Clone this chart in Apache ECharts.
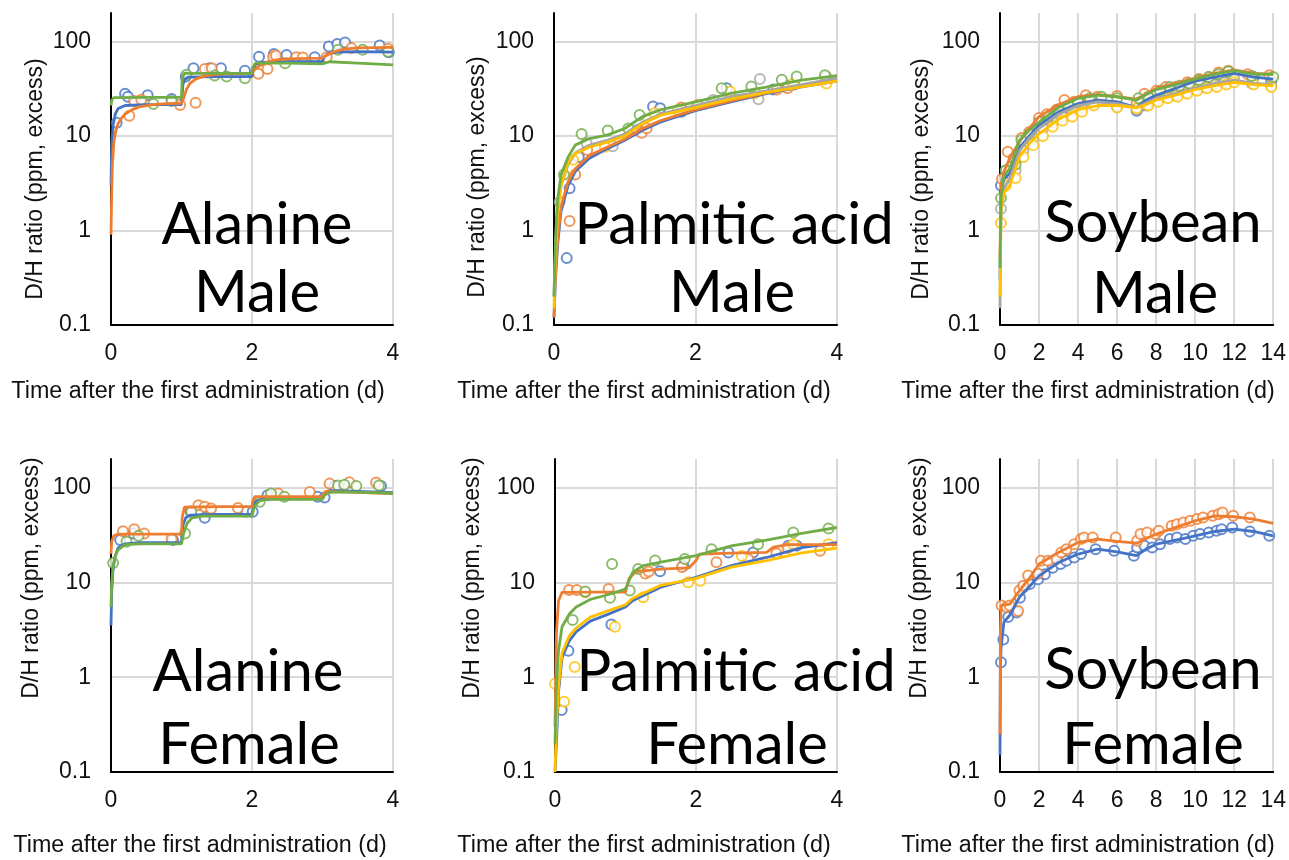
<!DOCTYPE html>
<html><head><meta charset="utf-8">
<script src="https://cdn.jsdelivr.net/npm/echarts@6/dist/echarts.min.js"></script>
<style>html,body{margin:0;padding:0;background:#fff}#c{width:1289px;height:860px}</style>
</head><body><div id="c"></div>
<script>
// ---------- tick labels ----------
const X_TICKS_4 = [0, 2, 4];
const X_TICKS_14 = [0, 2, 4, 6, 8, 10, 12, 14];
const Y_TICKS = [0.1, 1, 10, 100];
const Y_MAX = 200;
const X_NAME = 'Time after the first administration (d)';
const Y_NAME = 'D/H ratio (ppm, excess)';

// ---------- Alanine Male ----------
const alaM_blueFit = [[0,3],[0.01,8],[0.03,13],[0.06,17],[0.1,19.5],[0.2,21],[0.5,21.5],[1.0,21.5],[1.02,35],[1.05,40],[1.1,42],[1.5,42.5],[2.0,42.5],[2.02,52],[2.05,57],[2.15,60],[2.5,61],[3.0,61],[3.02,68],[3.08,74],[3.2,77],[3.5,78],[4.0,77]];
const alaM_orangeFit = [[0,0.9],[0.01,2.5],[0.02,5],[0.04,8.5],[0.07,11.5],[0.1,13.5],[0.15,15.5],[0.2,17],[0.3,19],[0.4,20.3],[0.6,21.5],[0.8,22],[1.0,22.2],[1.03,25],[1.07,31],[1.12,36],[1.2,40],[1.3,42.5],[1.45,44.5],[1.6,45.5],[2.0,46],[2.03,50],[2.1,55],[2.2,60],[2.35,64],[2.5,65.5],[3.0,66.5],[3.05,71],[3.15,77],[3.3,83],[3.5,85.5],[4.0,86.5]];
const alaM_greenFit = [[0,21],[0.01,24],[0.04,25.5],[0.5,25.6],[1.0,25.6],[1.01,40],[1.04,46],[1.5,46],[2.0,46],[2.01,53],[2.05,59],[2.5,59],[3.0,58],[3.02,60],[3.1,61],[3.5,59],[4.0,56.5]];
const alaM_blueObs = [[0.08,13.8],[0.2,27.9],[0.24,26],[0.52,27],[0.86,24.6],[1.06,42.6],[1.17,52],[1.4,52],[1.56,52],[1.9,49],[2.1,69],[2.31,73.5],[2.49,72],[2.89,68],[3.09,88.6],[3.21,94],[3.32,97.6],[3.81,90.7],[3.94,77]];
const alaM_orangeObs = [[0.26,16.4],[0.33,23.5],[0.43,24.2],[0.98,21.3],[1.2,22.5],[1.33,51],[1.43,52],[2.09,45.4],[2.22,51],[2.3,69],[2.34,71],[2.63,68],[2.72,67.6],[3.06,68],[3.41,85],[3.93,83.6]];
const alaM_greenObs = [[0.6,21.8],[0.86,23.5],[1.07,44.4],[1.47,43.6],[1.64,42.6],[1.9,40.9],[2.47,58.9],[3.22,81.6],[3.57,81.6],[3.93,78]];

// ---------- Palmitic acid Male ----------
const palM_blueFit = [[0,0.12],[0.02,0.3],[0.05,0.7],[0.1,1.6],[0.2,3],[0.3,4.2],[0.5,5.8],[0.75,7.3],[1,9],[1.25,11.5],[1.5,14],[2,18.5],[2.5,23],[3,28],[3.5,33],[4,38]];
const palM_orangeFit = [[0,0.12],[0.02,0.35],[0.05,0.8],[0.1,1.8],[0.2,3.3],[0.3,4.5],[0.5,6.2],[0.75,7.6],[1,9.3],[1.25,12],[1.5,14.5],[2,19],[2.5,23.5],[3,28.5],[3.5,33.5],[4,39]];
const palM_grayFit = [[0,0.2],[0.02,0.6],[0.05,1.8],[0.1,3],[0.2,5],[0.3,6.6],[0.5,8],[0.75,9],[1,10.5],[1.25,14],[1.5,17],[2,21],[2.5,26],[3,30],[3.5,35],[4,41]];
const palM_yellowFit = [[0,0.15],[0.02,0.5],[0.05,1.5],[0.1,3],[0.2,5.3],[0.3,6.5],[0.5,7.6],[0.75,8.6],[1,10],[1.25,13.5],[1.5,16.5],[2,20],[2.5,24.5],[3,29],[3.5,33],[4,38]];
const palM_greenFit = [[0,0.2],[0.02,0.8],[0.05,2.1],[0.1,3.9],[0.2,6],[0.3,8],[0.5,9.4],[0.75,10.2],[1,12],[1.25,16],[1.5,18.9],[2,23],[2.5,28.3],[3,32.8],[3.5,39],[4,43.6]];
const palM_blueObs = [[0.18,0.51],[0.22,2.8],[0.35,6],[1.18,11.6],[1.4,20.5],[1.5,19.6],[1.8,18],[2.44,32],[3.1,31],[3.3,34]];
const palM_orangeObs = [[0.22,1.26],[0.3,3.9],[0.47,7.1],[1.24,10.8],[1.31,12.1],[1.8,20],[2.03,21.3],[2.5,26],[3.15,31],[3.3,32],[3.4,35]];
const palM_grayObs = [[0.08,2.0],[0.46,8.4],[0.83,7.8],[1.8,19],[2.25,24],[2.89,24.5],[2.91,40],[3.85,42]];
const palM_yellowObs = [[0.27,5.6],[0.72,7.7],[1.42,17.4],[1.75,18.8],[2.49,29.5],[2.84,28.3],[3.38,35.6],[3.85,36]];
const palM_greenObs = [[0.14,3.9],[0.39,10.5],[0.76,11.4],[1.05,12],[1.21,16.7],[2.37,32],[2.79,33.4],[3.22,39.3],[3.43,42.6],[3.83,44]];

// ---------- Soybean Male ----------
const soyM_blueFit = [[0,0.3],[0.05,2.5],[0.2,3.5],[0.5,4],[1,7.5],[1.5,10],[2,13],[3,18],[4,22],[5,24],[6,23],[7,20],[7.5,24],[8,27],[9,32],[10,38],[11,42],[12,46],[13,42],[14,40]];
const soyM_orangeFit = [[0,0.5],[0.05,3],[0.2,4.2],[0.5,5.8],[1,8.7],[1.5,12],[2,16],[3,21.4],[4,26],[5,27.6],[6,26],[7,24.6],[7.5,28],[8,32],[9,36],[10,40.8],[11,46],[12,50],[13,46],[14,45]];
const soyM_grayFit = [[0,0.15],[0.05,1.8],[0.2,2.8],[0.5,3.5],[1,7],[1.5,9.5],[2,12],[3,17],[4,21],[5,23],[6,22],[7,20],[7.5,22.5],[8,25],[9,28],[10,32],[11,36],[12,39],[13,36],[14,35]];
const soyM_yellowFit = [[0,0.2],[0.05,1.6],[0.2,2.5],[0.5,3],[1,6],[1.5,8.3],[2,10.5],[3,15],[4,19],[5,21],[6,21],[7,20],[7.5,21.5],[8,24],[9,27],[10,31],[11,34],[12,37],[13,35],[14,34]];
const soyM_greenFit = [[0,0.4],[0.05,2.2],[0.2,3.8],[0.5,4.5],[1,9],[1.5,11.5],[2,14],[3,20],[4,25],[5,27],[6,26],[7,24],[7.5,27.5],[8,31],[9,35],[10,40],[11,45],[12,49],[13,45],[14,45]];
const soyM_blueObs = [[0.05,3.0],[0.3,4.3],[0.8,5.5],[1.2,7.8],[1.6,10.5],[2.1,14],[2.5,15],[3.0,17],[3.5,19.5],[4.0,21],[4.5,23],[5.0,23],[6.0,20.5],[7.0,18.5],[7.3,21],[7.8,24],[8.3,27],[8.8,29],[9.3,31],[9.8,34],[10.3,37],[10.8,40],[11.3,43],[11.8,45],[13.0,42],[13.9,38]];
const soyM_orangeObs = [[0.1,3.5],[0.4,6.8],[0.7,5.8],[1.1,9.5],[1.5,11],[2.0,15.5],[2.4,17],[2.9,19],[3.3,24],[3.8,23],[4.4,27],[5.0,26],[6.0,26.5],[7.0,22],[7.4,28],[8.0,30],[8.5,33],[9.0,33],[9.6,37],[10.2,40],[10.7,42],[11.2,47],[11.7,49],[12.7,45],[13.8,44]];
const soyM_grayObs = [[0.05,1.7],[0.3,3.2],[0.8,4.3],[1.2,7],[1.7,9.5],[2.2,12],[2.7,14],[3.2,16],[3.7,18.5],[4.2,20],[4.8,22],[6.0,21],[7.0,19],[7.5,21],[8.0,24],[8.5,26],[9.0,27],[9.5,29],[10.0,31],[10.5,33],[11.0,35],[11.5,37],[12.0,40],[12.9,36],[13.9,34]];
const soyM_yellowObs = [[0.05,1.2],[0.3,3.0],[0.8,3.6],[1.2,6],[1.7,8],[2.2,10],[2.7,12.5],[3.2,14.5],[3.7,16],[4.2,18],[4.8,21],[6.0,20],[7.0,19.5],[7.6,21],[8.1,23],[8.6,25],[9.1,26],[9.6,28],[10.1,30],[10.6,32],[11.1,33],[11.6,35],[12.0,37],[13.0,35],[13.9,33]];
const soyM_greenObs = [[0.05,2.2],[0.3,4.3],[0.8,5],[1.1,9],[1.5,10.5],[2.0,14],[2.5,16],[3.0,19],[3.5,21],[4.0,23],[4.6,25],[5.2,26],[6.0,25],[7.1,25],[7.6,26],[8.2,30],[8.7,33],[9.2,34],[9.7,36],[10.2,39],[10.7,42],[11.2,45],[11.7,48],[12.9,43],[14.0,42]];

// ---------- Alanine Female ----------
const alaF_blueFit = [[0,3.5],[0.01,8],[0.03,14],[0.06,19],[0.1,23],[0.2,25.5],[0.4,26.2],[1.0,26.3],[1.02,40],[1.06,48],[1.12,51],[1.5,52],[2.0,52],[2.02,65],[2.07,73],[2.15,76],[3.0,76.5],[3.02,85],[3.08,92],[3.2,93],[4.0,88.5]];
const alaF_orangeFit = [[0,20],[0.01,27],[0.04,31],[0.1,32.3],[1.0,32.3],[1.01,48],[1.04,62],[1.5,63],[2.0,63],[2.01,72],[2.04,80],[2.5,80],[3.0,80],[3.01,86],[3.05,91],[3.5,89],[4.0,86.5]];
const alaF_greenFit = [[0,5.5],[0.01,10],[0.03,15],[0.06,19],[0.1,22],[0.2,25],[0.4,25.5],[1.0,25.5],[1.03,33],[1.08,42],[1.15,48],[1.3,50],[2.0,50],[2.03,62],[2.1,72],[2.2,75],[3.0,75],[3.03,83],[3.1,89],[3.3,90],[4.0,87]];
const alaF_blueObs = [[0.13,27.9],[0.32,32.8],[0.88,28],[1.13,56],[1.33,48],[1.92,56],[2.01,55.4],[2.22,83],[2.93,79.8],[3.03,78.5],[3.17,104],[3.83,104]];
const alaF_orangeObs = [[0.17,34.7],[0.33,36.4],[0.47,32.7],[0.86,28.6],[1.24,65],[1.33,62.6],[1.42,60],[1.8,61],[2.37,86.5],[2.82,90],[3.1,110],[3.38,114],[3.76,113]];
const alaF_greenObs = [[0.03,16],[0.22,26.8],[0.39,31],[1.05,32.8],[1.14,55.5],[2.11,70.7],[2.27,86.5],[2.46,79.8],[3.22,105],[3.31,107],[3.48,104],[3.8,105]];

// ---------- Palmitic acid Female ----------
const palF_blueFit = [[0,0.1],[0.02,0.2],[0.05,0.7],[0.1,1.6],[0.2,2.4],[0.3,3.0],[0.5,3.9],[0.75,4.6],[1,5.5],[1.1,6.4],[1.5,8.9],[2,11.3],[2.5,15],[3,18.3],[3.5,23.3],[4,26.3]];
const palF_orangeFit = [[0,0.3],[0.02,2.9],[0.05,6.4],[0.1,7.85],[0.5,7.9],[1.0,7.9],[1.05,11],[1.15,13],[1.5,13.8],[1.9,14.2],[2.0,17],[2.05,19.9],[2.5,20.3],[3.0,20.7],[3.1,23.5],[3.3,25],[4,25]];
const palF_yellowFit = [[0,0.1],[0.02,0.3],[0.05,0.8],[0.1,1.8],[0.2,2.7],[0.3,3.3],[0.5,4.3],[0.75,5.0],[1,5.8],[1.1,6.8],[1.5,9.3],[2,11],[2.5,14.5],[3,17],[3.5,20.5],[4,23]];
const palF_greenFit = [[0,0.2],[0.02,0.8],[0.05,1.9],[0.1,3.4],[0.2,4.6],[0.3,5.5],[0.5,6.6],[0.75,7.4],[1,8.5],[1.1,12.7],[1.25,15],[1.5,16.3],[2,19.1],[2.5,24.3],[3,27.9],[3.5,32.8],[4,37.9]];
const palF_blueObs = [[0.095,0.45],[0.19,1.9],[0.8,3.6],[1.49,13.1],[1.82,15],[2.46,20.7],[2.81,20.7],[3.31,24.4],[3.43,24.4]];
const palF_orangeObs = [[0.2,8.3],[0.31,8.3],[0.43,7.85],[0.76,8.5],[1.28,12.4],[1.33,13],[1.8,14.5],[2.29,16.3],[2.74,17.6],[3.14,20.2],[3.3,23],[3.76,21.6]];
const palF_yellowObs = [[0.0,0.85],[0.13,0.55],[0.28,1.28],[0.85,3.4],[1.25,6.95],[1.89,10],[2.06,10.4],[2.65,19],[3.38,25.3],[3.88,25.3]];
const palF_greenObs = [[0.25,4.0],[0.43,8.0],[0.78,6.9],[0.81,15.6],[1.06,8.2],[1.18,13.8],[1.42,17],[1.84,17.6],[2.22,22.4],[2.88,25.3],[3.38,33.6],[3.88,37]];

// ---------- Soybean Female ----------
const soyF_blueFit = [[0,0.15],[0.02,1.2],[0.05,2],[0.2,3.8],[0.5,4.5],[1,7],[1.5,9],[2,11.7],[3,16.2],[4,19.9],[5,22.4],[6,21],[7,19.1],[7.5,22.5],[8,25.3],[9,27.9],[10,31],[11,34.4],[12,36.4],[13,34.4],[14,31]];
const soyF_orangeFit = [[0,0.25],[0.02,3],[0.05,5.7],[0.5,5.9],[1,8.2],[1.5,11],[2,15.6],[3,20.7],[4,26.4],[5,28.6],[6,27],[7,25.9],[7.5,29],[8,32.3],[9,38],[10,44.6],[11,50.3],[12,49.2],[13,46.5],[14,41.8]];
const soyF_blueObs = [[0.05,1.44],[0.17,2.5],[0.42,4.3],[0.85,4.8],[1.02,6.9],[1.19,8.9],[1.53,9.6],[1.95,10.8],[2.3,12.2],[2.7,14.3],[3.1,15.6],[3.4,16.9],[3.8,18.3],[4.15,19.9],[4.9,22.4],[5.85,21.5],[6.86,19.1],[7.03,23.3],[7.4,24.3],[7.8,23.3],[8.2,25.3],[8.7,28.6],[9.07,29.8],[9.5,28.6],[9.9,31],[10.25,32.3],[10.7,33.6],[11.1,35],[11.35,36.4],[11.9,38],[12.8,34.4],[13.8,31]];
const soyF_orangeObs = [[0.08,5.7],[0.34,5.5],[0.5,5.7],[0.93,5.0],[1.0,8.2],[1.2,9.2],[1.44,11.8],[1.95,12.3],[2.1,16.9],[2.46,16.9],[2.9,17.6],[3.14,20.7],[3.4,22.4],[3.8,25.3],[4.15,28.6],[4.3,29.8],[4.75,29.8],[5.93,29.8],[7.03,27.5],[7.2,32.3],[7.54,33.6],[7.97,32.3],[8.14,35],[8.8,39.5],[9.07,41],[9.4,42.8],[9.75,44.6],[10.1,46.5],[10.4,48.3],[10.9,50.3],[11.2,52.4],[11.4,54.6],[11.95,50.3],[12.8,48.3]];

// ---------- styling / layout ----------
const COLORS = {blue:'#4472C4', orange:'#ED7D31', gray:'#A5A5A5', yellow:'#FFC000', green:'#70AD47'};
const SANS = '"Liberation Sans", Arial, sans-serif';
const BIG = 'Lato, "Open Sans", sans-serif';

const panels = [
  {grid:{left:111,top:13,width:282,height:312}, xt:X_TICKS_4, title:['Alanine','Male'], tx:[257,257], ty:[245,313], xn:[198,392], yn:[36,179],
   s:[['blue',alaM_blueFit,alaM_blueObs],['orange',alaM_orangeFit,alaM_orangeObs],['green',alaM_greenFit,alaM_greenObs]]},
  {grid:{left:554,top:13,width:283,height:312}, xt:X_TICKS_4, title:['Palmitic acid','Male'], tx:[734,732], ty:[245,313], xn:[644,392], yn:[478,177],
   s:[['blue',palM_blueFit,palM_blueObs],['orange',palM_orangeFit,palM_orangeObs],['gray',palM_grayFit,palM_grayObs],['yellow',palM_yellowFit,palM_yellowObs],['green',palM_greenFit,palM_greenObs]]},
  {grid:{left:1000,top:13,width:275,height:312}, xt:X_TICKS_14, title:['Soybean','Male'], tx:[1153,1155], ty:[243,314], xn:[1088,392], yn:[922,179],
   s:[['blue',soyM_blueFit,soyM_blueObs],['orange',soyM_orangeFit,soyM_orangeObs],['gray',soyM_grayFit,soyM_grayObs],['yellow',soyM_yellowFit,soyM_yellowObs],['green',soyM_greenFit,soyM_greenObs]]},
  {grid:{left:111,top:459,width:282,height:313}, xt:X_TICKS_4, title:['Alanine','Female'], tx:[248,249], ty:[692,765], xn:[200,846], yn:[32,578],
   s:[['blue',alaF_blueFit,alaF_blueObs],['orange',alaF_orangeFit,alaF_orangeObs],['green',alaF_greenFit,alaF_greenObs]]},
  {grid:{left:555,top:459,width:282,height:313}, xt:X_TICKS_4, title:['Palmitic acid','Female'], tx:[736,737], ty:[692,765], xn:[644,846], yn:[473,578],
   s:[['blue',palF_blueFit,palF_blueObs],['orange',palF_orangeFit,palF_orangeObs],['yellow',palF_yellowFit,palF_yellowObs],['green',palF_greenFit,palF_greenObs]]},
  {grid:{left:1000,top:459,width:275,height:313}, xt:X_TICKS_14, title:['Soybean','Female'], tx:[1153,1153], ty:[690,765], xn:[1088,846], yn:[920,578],
   s:[['blue',soyF_blueFit,soyF_blueObs],['orange',soyF_orangeFit,soyF_orangeObs]]}
];

const grid = [], xAxis = [], yAxis = [], series = [], graphic = [];
const isPow10 = v => Math.abs(Math.log10(v) - Math.round(Math.log10(v))) < 1e-6;

panels.forEach((p, i) => {
  grid.push(Object.assign({containLabel:false}, p.grid));
  xAxis.push({
    type:'value', gridIndex:i, min:p.xt[0], max:p.xt[p.xt.length-1], interval:p.xt[1]-p.xt[0],
    axisLine:{show:true, onZero:false, lineStyle:{color:'#000', width:2}},
    axisTick:{show:false},
    axisLabel:{fontSize:23, color:'#111', fontFamily:SANS, margin:17, showMinLabel:true, showMaxLabel:true},
    splitLine:{show:true, showMinLine:false, showMaxLine:true, lineStyle:{color:'#d9d9d9', width:2}}
  });
  yAxis.push({
    type:'log', logBase:10, gridIndex:i, min:Y_TICKS[0], max:Y_MAX,
    axisLine:{show:true, onZero:false, lineStyle:{color:'#000', width:2}},
    axisTick:{show:false},
    axisLabel:{fontSize:23, color:'#111', fontFamily:SANS, margin:20, showMaxLabel:false,
      formatter: v => (isPow10(v) && Y_TICKS.some(t => Math.abs(t - v) / t < 1e-6)) ? String(+(+v).toPrecision(3)) : ''},
    splitLine:{show:true, showMinLine:false, showMaxLine:false, lineStyle:{color:'#d9d9d9', width:2}}
  });
  p.s.forEach(([c, fit, obs]) => {
    series.push({type:'scatter', xAxisIndex:i, yAxisIndex:i, data:obs, symbol:'emptyCircle', symbolSize:10,
      itemStyle:{color:COLORS[c], borderColor:COLORS[c], borderWidth:1.6}, z:2, silent:true});
    series.push({type:'line', xAxisIndex:i, yAxisIndex:i, data:fit, showSymbol:false, smooth:false,
      lineStyle:{color:COLORS[c], width:2.8}, z:3, silent:true});
  });
  graphic.push({type:'text', x:p.xn[0], y:p.xn[1], z:50,
    style:{text:X_NAME, font:'23.3px ' + SANS, fill:'#111', align:'center', verticalAlign:'middle'}});
  graphic.push({type:'text', x:p.yn[0], y:p.yn[1], rotation:Math.PI/2, z:50,
    style:{text:Y_NAME, font:'23px ' + SANS, fill:'#111', align:'center', verticalAlign:'middle'}});
  p.title.forEach((t, k) => {
    graphic.push({type:'text', x:p.tx[k], y:p.ty[k] - 20, z:100,
      style:{text:t, font:'58px ' + BIG, fill:'#000', align:'center', verticalAlign:'middle'}});
  });
});

const chart = echarts.init(document.getElementById('c'), null, {renderer:'canvas'});
chart.setOption({animation:false, backgroundColor:'#fff', grid, xAxis, yAxis, series, graphic});
</script></body></html>
